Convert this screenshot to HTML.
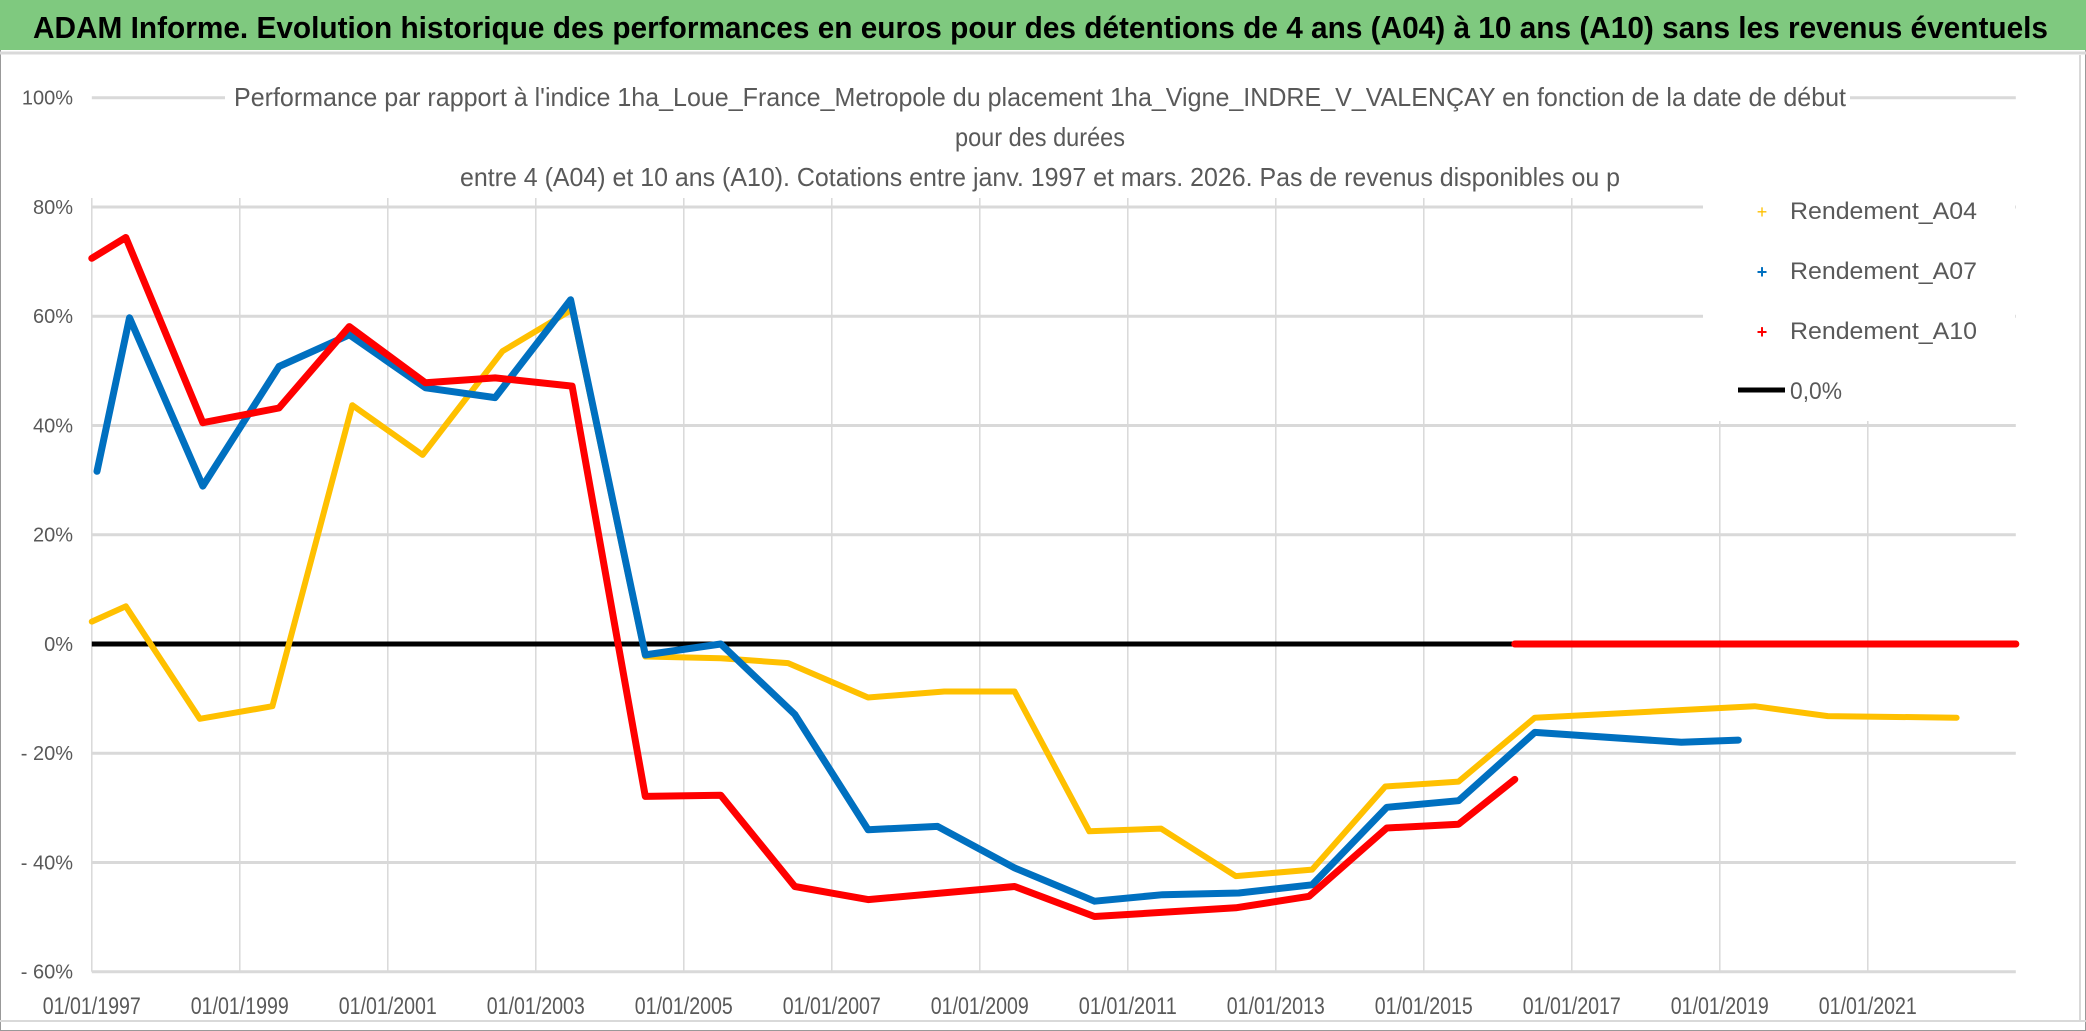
<!DOCTYPE html>
<html><head><meta charset="utf-8"><style>
html,body{margin:0;padding:0;background:#fff;}
svg{display:block;font-family:"Liberation Sans",sans-serif;}
</style></head><body>
<svg id="chart" width="2086" height="1031" viewBox="0 0 2086 1031">
  <rect x="0" y="0" width="2086" height="1031" fill="#fff"/>
  <rect x="0.5" y="0.5" width="2085" height="1030" fill="none" stroke="#999" stroke-width="1"/>
  <rect x="0" y="0" width="2086" height="50" fill="#7fc97f"/>
  <line x1="0" y1="53" x2="2086" y2="53" stroke="#d9d9d9" stroke-width="3"/>
  <text x="33" y="38" font-size="31" font-weight="bold" fill="#000" textLength="2015" lengthAdjust="spacingAndGlyphs">ADAM Informe. Evolution historique des performances en euros pour des détentions de 4 ans (A04) à 10 ans (A10) sans les revenus éventuels</text>
  <line x1="0" y1="1021" x2="2086" y2="1021" stroke="#d9d9d9" stroke-width="2"/>
  <line x1="2080" y1="55" x2="2080" y2="1021" stroke="#d9d9d9" stroke-width="2"/>
  <g id="grid"></g>
  <rect x="225" y="72" width="1625" height="125" fill="#fff"/>
  <g fill="#595959" font-size="26" text-anchor="middle">
    <text x="1040" y="106" textLength="1612" lengthAdjust="spacingAndGlyphs">Performance par rapport à l'indice 1ha_Loue_France_Metropole  du placement 1ha_Vigne_INDRE_V_VALENÇAY en fonction de la date de début</text>
    <text x="1040" y="146" textLength="170" lengthAdjust="spacingAndGlyphs">pour des durées</text>
    <text x="1040" y="186" textLength="1160" lengthAdjust="spacingAndGlyphs">entre 4 (A04) et 10 ans (A10). Cotations entre janv. 1997 et mars. 2026. Pas de revenus disponibles ou p</text>
  </g>
  <rect x="1703" y="188" width="312" height="233" fill="#fff"/>
  <g id="axes"></g>
  <g id="series"></g>
  <g font-size="24" fill="#595959">
    <g>
      <text x="1762" y="218" fill="#ffc000" font-size="18" text-anchor="middle">+</text>
      <text x="1790" y="219" textLength="187" lengthAdjust="spacingAndGlyphs">Rendement_A04</text>
    </g>
    <g>
      <text x="1762" y="278" fill="#0070c0" font-size="18" font-weight="bold" text-anchor="middle">+</text>
      <text x="1790" y="279" textLength="187" lengthAdjust="spacingAndGlyphs">Rendement_A07</text>
    </g>
    <g>
      <text x="1762" y="338" fill="#ff0000" font-size="18" font-weight="bold" text-anchor="middle">+</text>
      <text x="1790" y="339" textLength="187" lengthAdjust="spacingAndGlyphs">Rendement_A10</text>
    </g>
    <g>
      <line x1="1738" y1="390" x2="1785" y2="390" stroke="#000" stroke-width="5"/>
      <text x="1790" y="399" textLength="52" lengthAdjust="spacingAndGlyphs">0,0%</text>
    </g>
  </g>
</svg>
<script>
const yTicks = [100, 80, 60, 40, 20, 0, -20, -40, -60];
const yTickLabels = ["100%", "80%", "60%", "40%", "20%", "0%", "- 20%", "- 40%", "- 60%"];
const xTicks = [1997, 1999, 2001, 2003, 2005, 2007, 2009, 2011, 2013, 2015, 2017, 2019, 2021];
const xTickLabels = ["01/01/1997","01/01/1999","01/01/2001","01/01/2003","01/01/2005","01/01/2007","01/01/2009","01/01/2011","01/01/2013","01/01/2015","01/01/2017","01/01/2019","01/01/2021"];

const a04Dates = [1997.0, 1997.46, 1998.46, 1999.44, 2000.52, 2001.47, 2002.55, 2003.49, 2004.48, 2005.5, 2006.41, 2007.49, 2008.52, 2009.47, 2010.48, 2011.45, 2012.46, 2013.49, 2014.48, 2015.47, 2016.5, 2019.47, 2020.46, 2022.2];
const a04Values = [4.1, 6.9, -13.7, -11.4, 43.7, 34.6, 53.6, 61.2, -2.3, -2.6, -3.5, -9.8, -8.7, -8.7, -34.3, -33.8, -42.5, -41.3, -26.1, -25.2, -13.5, -11.4, -13.2, -13.5];
const a04ZeroDates = [2022.2, 2023.0];
const a04ZeroValues = [0, 0];

const a07Dates = [1997.07, 1997.51, 1998.5, 1999.53, 2000.48, 2001.51, 2002.45, 2003.47, 2004.48, 2005.5, 2006.5, 2007.49, 2008.43, 2009.47, 2010.55, 2011.47, 2012.5, 2013.49, 2014.5, 2015.47, 2016.5, 2018.48, 2019.25];
const a07Values = [31.6, 59.7, 28.9, 50.8, 56.6, 46.9, 45.1, 63.0, -2.0, 0.0, -12.9, -34.0, -33.4, -41.0, -47.1, -45.9, -45.6, -44.1, -29.9, -28.7, -16.2, -18.0, -17.6];

const a10Dates = [1997.0, 1997.46, 1998.5, 1999.53, 2000.48, 2001.51, 2002.45, 2003.49, 2004.48, 2005.5, 2006.5, 2007.49, 2009.47, 2010.55, 2012.46, 2013.45, 2014.5, 2015.47, 2016.23];
const a10Values = [70.6, 74.4, 40.5, 43.2, 58.1, 47.8, 48.7, 47.2, -27.9, -27.7, -44.4, -46.8, -44.4, -49.9, -48.3, -46.2, -33.7, -33.0, -24.8];
const a10ZeroDates = [2016.23, 2023.0];
const a10ZeroValues = [0, 0];

const X0 = 91.8, PX_PER_YEAR = 74.0, XMIN = 1997, XMAX = 2023;
const Y100 = 97.7, PX_PER_PCT = 5.4625;
function xScale(d){ return X0 + (d - XMIN) * PX_PER_YEAR; }
function yScale(v){ return Y100 + (100 - v) * PX_PER_PCT; }
const NS = "http://www.w3.org/2000/svg";
const grid = document.getElementById("grid");
const axes = document.getElementById("axes");
const series = document.getElementById("series");
function mk(tag, attrs, parent){ const e = document.createElementNS(NS, tag); for (const k in attrs) e.setAttribute(k, attrs[k]); parent.appendChild(e); return e; }

const xR = xScale(XMAX);
yTicks.forEach((v, i) => {
  const y = yScale(v);
  const l = mk("line", {x1: X0, x2: xR, y1: y, y2: y, stroke: "#d9d9d9", "stroke-width": 3}, grid);
  
  
  const t = mk("text", {x: 73, y: y + 7, "text-anchor": "end", "font-size": 20, fill: "#595959"}, axes);
  t.textContent = yTickLabels[i];
  
  
});
xTicks.forEach((d, i) => {
  const x = xScale(d);
  const l = mk("line", {x1: x, x2: x, y1: 198, y2: yScale(-60), stroke: "#d9d9d9", "stroke-width": 1.5}, grid);
  
  
  const t = mk("text", {x: x, y: 1014, "text-anchor": "middle", "font-size": 24, fill: "#595959", textLength: 98, lengthAdjust: "spacingAndGlyphs"}, axes);
  t.textContent = xTickLabels[i];
  
  
});

const zero = mk("line", {x1: X0, x2: xR, y1: yScale(0), y2: yScale(0), stroke: "#000", "stroke-width": 5}, series);



function drawLine(dates, vals, color, w, name){
  const pts = dates.map((d, i) => xScale(d).toFixed(1) + "," + yScale(vals[i]).toFixed(1)).join(" ");
  const p = mk("polyline", {points: pts, fill: "none", stroke: color, "stroke-width": w, "stroke-linejoin": "round", "stroke-linecap": "round"}, series);
  
  
}
drawLine(a04ZeroDates, a04ZeroValues, "#ffc000", 7, "series-a04-zero");
drawLine(a10ZeroDates, a10ZeroValues, "#ff0000", 7, "series-a10-zero");
drawLine(a04Dates, a04Values, "#ffc000", 6, "series-a04");
drawLine(a07Dates, a07Values, "#0070c0", 7, "series-a07");
drawLine(a10Dates, a10Values, "#ff0000", 7, "series-a10");
</script>
</body></html>
